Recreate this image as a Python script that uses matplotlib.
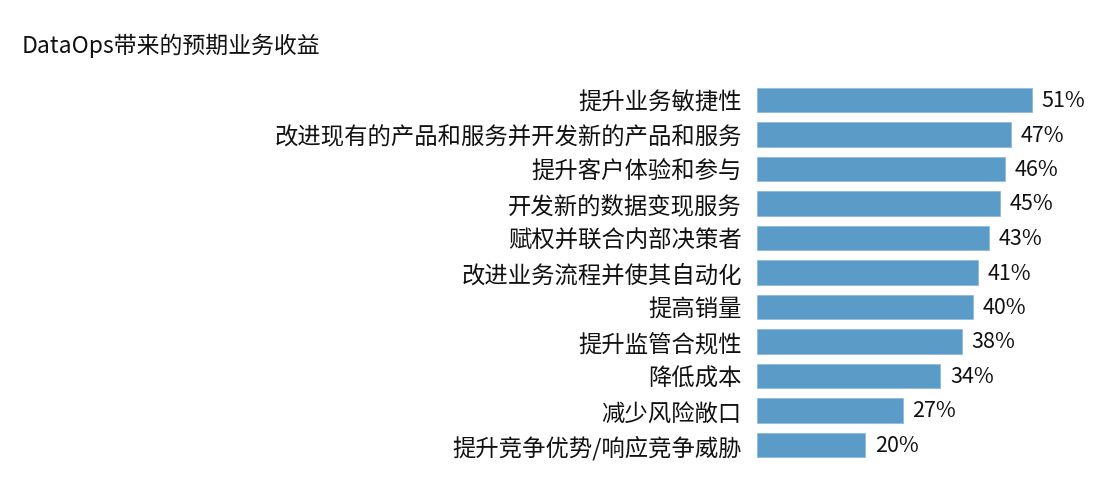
import matplotlib
matplotlib.use("Agg")
import matplotlib.pyplot as plt

plt.rcParams['font.family'] = ['Noto Sans CJK SC', 'DejaVu Sans']

categories = ["提升业务敏捷性", "改进现有的产品和服务并开发新的产品和服务", "提升客户体验和参与",
              "开发新的数据变现服务", "赋权并联合内部决策者", "改进业务流程并使其自动化",
              "提高销量", "提升监管合规性", "降低成本", "减少风险敞口", "提升竞争优势/响应竞争威胁"]
values = [51, 47, 46, 45, 43, 41, 40, 38, 34, 27, 20]
title = "DataOps带来的预期业务收益"

W, H = 1118, 485
fig = plt.figure(figsize=(W/100, H/100), dpi=100)
left = 757 / W
right = 1113 / W
top_px = 101 - 34.5 * 0.5
bot_px = 446 + 34.5 * 0.5
ax = fig.add_axes([left, 1 - bot_px / H, right - left, (bot_px - top_px) / H])

y = list(range(len(categories)))
ax.barh(y, values, height=0.7, color='#5b9bc8', edgecolor='#8dbbdc', linewidth=0.6)
ax.set_xlim(0, 66)
ax.set_ylim(len(categories) - 0.5, -0.5)
ax.set_yticks(y)
ax.set_yticklabels(categories, fontsize=16.8, color='#111111')
ax.tick_params(axis='y', length=0, pad=11)
ax.set_xticks([])
for s in ax.spines.values():
    s.set_visible(False)

for yi, v in zip(y, values):
    ax.text(v + 1.8, yi, f"{v}%", va='center', ha='left', fontsize=15.5, color='#111111')

fig.text(22 / W, 1 - 46 / H, title, fontsize=16.5, color='#111111', va='center', ha='left')

fig.savefig("out.png", dpi=100, facecolor='white')
